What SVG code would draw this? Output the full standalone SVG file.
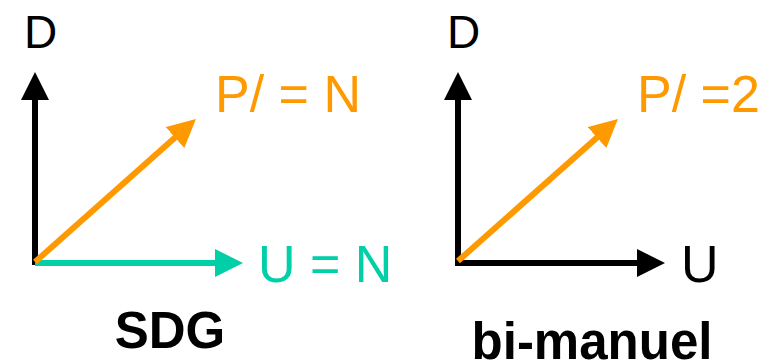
<svg xmlns="http://www.w3.org/2000/svg" width="774" height="363" viewBox="0 0 774 363">
<style>
text{font-family:"Liberation Sans",Arial,sans-serif}
.lbl{font-size:52px}
.ax{font-size:46px;fill:#000}
.ttl{font-size:51px;font-weight:bold;fill:#000;text-anchor:middle}
.k{stroke:#000;stroke-width:6;fill:none}
.o{stroke:#FF9900;stroke-width:6;fill:none}
.t{stroke:#00CFA8;stroke-width:6;fill:none}
</style>
<defs>
<marker id="ak" markerUnits="userSpaceOnUse" markerWidth="28" markerHeight="28" refX="8" refY="14" orient="auto"><path d="M0,0 L28,14 L0,28 z" fill="#000"/></marker>
<marker id="ao" markerUnits="userSpaceOnUse" markerWidth="28" markerHeight="28" refX="8" refY="14" orient="auto"><path d="M0,0 L28,14 L0,28 z" fill="#FF9900"/></marker>
<marker id="at" markerUnits="userSpaceOnUse" markerWidth="28" markerHeight="28" refX="8" refY="14" orient="auto"><path d="M0,0 L28,14 L0,28 z" fill="#00CFA8"/></marker>
</defs>
<g id="connectors">
<line class="k" x1="35" y1="265" x2="35" y2="92" marker-end="url(#ak)"/>
<line class="t" x1="35" y1="263" x2="223" y2="263" marker-end="url(#at)"/>
<line class="o" x1="35" y1="262" x2="181" y2="132.3" marker-end="url(#ao)"/>
<line class="k" x1="458" y1="265" x2="458" y2="92" marker-end="url(#ak)"/>
<line class="k" x1="455" y1="263" x2="645" y2="263" marker-end="url(#ak)"/>
<line class="o" x1="458" y1="261" x2="603" y2="132.3" marker-end="url(#ao)"/>
</g>
<g id="sdg">
<text class="ax" x="24" y="48">D</text>
<text class="lbl" x="215" y="112" fill="#FF9900">P/ = N</text>
<text class="lbl" x="258" y="282" fill="#00CFA8">U = N</text>
<text class="ttl" x="170" y="348">SDG</text>
</g>
<g id="bimanuel">
<text class="ax" x="447" y="48">D</text>
<text class="lbl" x="637" y="112" fill="#FF9900">P/ =2</text>
<text class="lbl" x="681" y="282" fill="#000">U</text>
<text class="ttl" x="592" y="359">bi-manuel</text>
</g>
</svg>
